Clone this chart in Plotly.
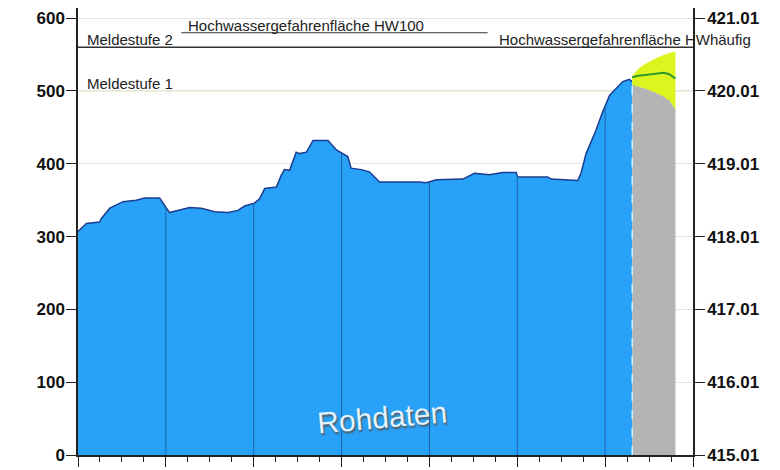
import numpy as np
import plotly.graph_objects as go

# observed water level (cm), hours since start of the 7-day window
obs_t = [0, 2.3, 5.9, 6.4, 8.7, 12.3, 15.9, 18.2, 22.3, 23.7, 25.0, 30.5, 33.7, 37.3,
         41.0, 43.7, 45.5, 48.2, 49.6, 51.0, 54.2, 55.5, 56.4, 57.8, 59.6, 60.5, 62.4,
         64.2, 68.3, 70.6, 73.7, 74.6, 77.4, 79.6, 82.4, 93.3, 95.1, 97.9, 105.1, 108.3,
         112.4, 116.0, 119.7, 120.1, 128.3, 129.3, 136.5, 137.4, 138.8, 141.5, 143.3,
         145.2, 147.0, 148.8, 150.6, 151.4]
obs_v = [307, 318, 320, 325, 339, 348, 350, 353, 353, 343, 333, 340, 339, 334,
         333, 336, 342, 346, 352, 366, 368, 384, 392, 391, 416, 414, 416,
         432, 432, 419, 410, 394, 392, 389, 375, 375, 374, 378, 379, 387,
         385, 388, 388, 382, 382, 379, 377, 387, 414, 446, 471,
         494, 503, 513, 516, 513]

# forecast (median and spread)
fc_t = [151.4, 153, 155, 158, 160, 161.5, 163.2]
fc_mid = [519, 521, 522, 524, 525, 523, 517]
fc_hi = [520, 530, 537, 545, 549, 552, 554]
fc_lo = [508, 506, 503, 497, 492, 487, 474]

MELDESTUFE_1 = 500
MELDESTUFE_2 = 560
HW100 = 580
PEGELNULL = 415.01  # m above sea level at 0 cm

days = [24, 48, 72, 96, 120, 144]
Y_MAX = 614

FONT = "Liberation Sans, Arial, sans-serif"

fig = go.Figure()

# day separators inside the filled area
vx, vy = [], []
for d in days:
    vx += [d, d, None]
    vy += [0, float(np.interp(d, obs_t, obs_v)), None]

fig.add_trace(go.Scatter(x=obs_t, y=obs_v, mode="lines", fill="tozeroy",
                         fillcolor="#27a2f8", line=dict(color="#1b3d8f", width=1.5),
                         hoverinfo="skip"))
fig.add_trace(go.Scatter(x=vx, y=vy, mode="lines", line=dict(color="#1d64a6", width=1),
                         hoverinfo="skip"))
fig.add_trace(go.Scatter(x=fc_t, y=fc_lo, mode="lines", fill="tozeroy",
                         fillcolor="#b4b4b4", line=dict(color="#b4b4b4", width=0.5),
                         hoverinfo="skip"))
fig.add_trace(go.Scatter(x=fc_t, y=fc_hi, mode="lines", fill="tonexty",
                         fillcolor="#dcf51e", line=dict(color="#dcf51e", width=0.5),
                         hoverinfo="skip"))
fig.add_trace(go.Scatter(x=fc_t, y=fc_mid, mode="lines",
                         line=dict(color="#2e9a2e", width=2), hoverinfo="skip"))
fig.add_trace(go.Scatter(x=[obs_t[-1], obs_t[-1]], y=[0, obs_v[-1]], mode="lines",
                         line=dict(color="#c8f2ff", width=1.5, dash="dash"),
                         hoverinfo="skip"))
# invisible trace so the right axis is drawn
fig.add_trace(go.Scatter(x=[0], y=[PEGELNULL], yaxis="y2", mode="markers",
                         marker=dict(opacity=0), hoverinfo="skip"))

fig.add_shape(type="line", xref="paper", x0=0, x1=1, y0=MELDESTUFE_1, y1=MELDESTUFE_1,
              line=dict(color="#ece3a6", width=1.2), layer="below")
fig.add_shape(type="line", xref="paper", x0=0, x1=1, y0=MELDESTUFE_2, y1=MELDESTUFE_2,
              line=dict(color="#333333", width=1.5))
fig.add_shape(type="line", x0=28.2, x1=111.9, y0=HW100, y1=HW100,
              line=dict(color="#333333", width=1.2))

ann = dict(showarrow=False, font=dict(family=FONT, size=15, color="#222222"),
           xanchor="left", yanchor="bottom")
fig.add_annotation(x=2, y=MELDESTUFE_2, text="Meldestufe 2", yshift=-3, **ann)
fig.add_annotation(x=2, y=MELDESTUFE_1, text="Meldestufe 1", yshift=-3, **ann)
fig.add_annotation(x=29.5, y=HW100, text="Hochwassergefahrenfläche HW100", yshift=-3, **ann)
fig.add_annotation(x=114.5, y=MELDESTUFE_2, text="Hochwassergefahrenfläche HWhäufig",
                   yshift=-3, **ann)
fig.add_annotation(x=83, y=52, text="Rohdaten", showarrow=False, textangle=-5,
                   font=dict(family=FONT, size=30, color="#e4f2ff",
                             shadow="1px 2px 2px #555555"))

fig.update_layout(
    width=780, height=470,
    margin=dict(l=70, r=95, t=0, b=23),
    paper_bgcolor="white", plot_bgcolor="white",
    showlegend=False,
    xaxis=dict(range=[0, 168], dtick=24, tick0=0, ticks="outside", ticklen=10,
               tickcolor="#222", showticklabels=False, showgrid=False, zeroline=False,
               showline=True, linecolor="#222", linewidth=1.5,
               minor=dict(dtick=6, ticks="outside", ticklen=5, tickcolor="#222")),
    yaxis=dict(range=[0, Y_MAX], tickvals=[0, 100, 200, 300, 400, 500, 600],
               ticks="outside", ticklen=10, tickcolor="#222",
               tickfont=dict(family=FONT, size=17, color="#111", weight="bold"),
               showgrid=True, gridcolor="#e4e4e4", zeroline=False,
               showline=True, linecolor="#222", linewidth=1.5, ticklabelstandoff=-2),
    yaxis2=dict(overlaying="y", side="right", range=[PEGELNULL, PEGELNULL + Y_MAX / 100],
                tickvals=[PEGELNULL + i for i in range(7)], tickformat=".2f",
                ticks="outside", ticklen=10, tickcolor="#222",
                tickfont=dict(family=FONT, size=17, color="#111", weight="bold"),
                showgrid=False, zeroline=False,
                showline=True, linecolor="#222", linewidth=1.5, ticklabelstandoff=-1),
)

fig.write_html("out.html")
